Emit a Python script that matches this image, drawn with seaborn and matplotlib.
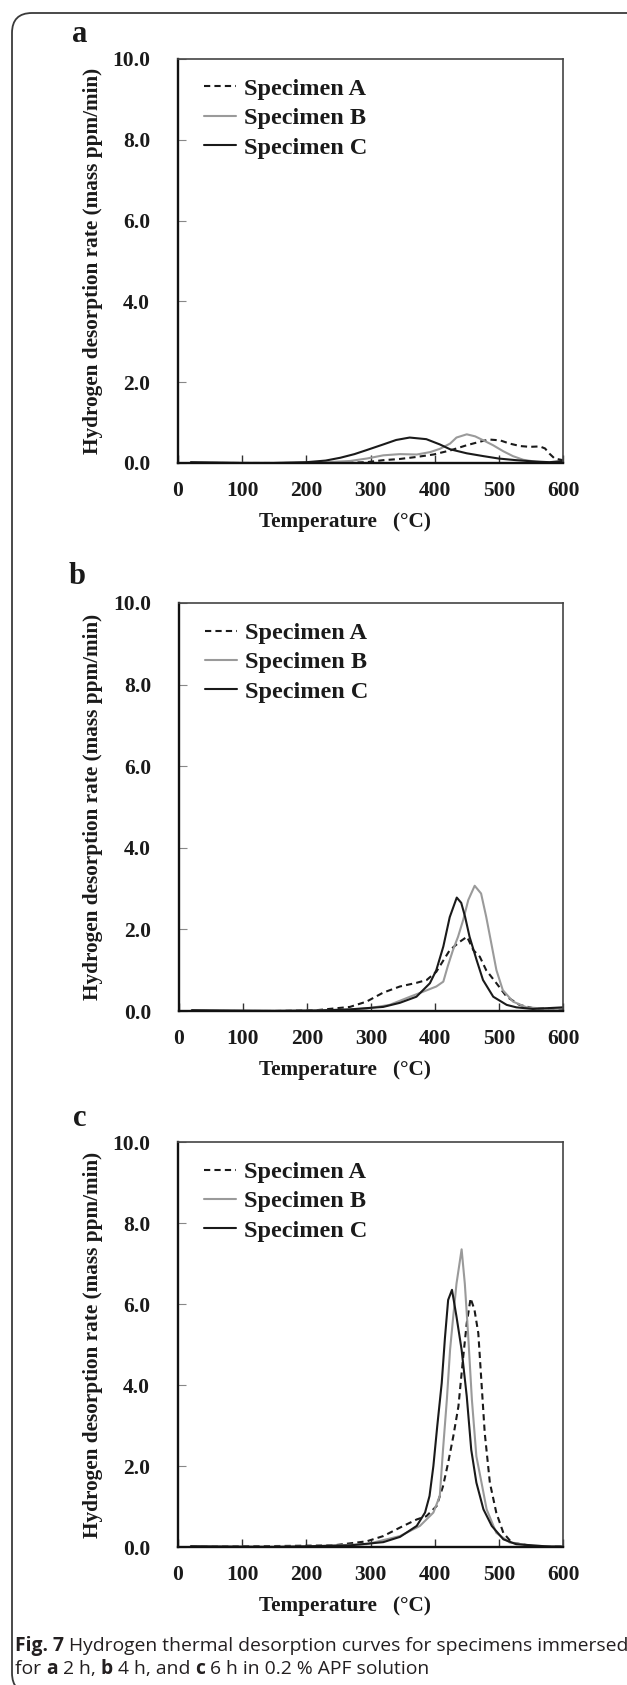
import numpy as np
import pandas as pd
import matplotlib
matplotlib.use("Agg")
import matplotlib.pyplot as plt
import seaborn as sns
from matplotlib.patches import FancyBboxPatch
from matplotlib.transforms import IdentityTransform

# ---------------- data ----------------
x_ticks = [0, 100, 200, 300, 400, 500, 600]
y_ticks = [0.0, 2.0, 4.0, 6.0, 8.0, 10.0]
series_names = ["Specimen A", "Specimen B", "Specimen C"]
panel_letters = ["a", "b", "c"]
x_label = "Temperature   (°C)"
y_label = "Hydrogen desorption rate (mass ppm/min)"

# panel a (2 h)
a_A_T = [20, 150, 250, 294, 320, 346, 372, 398, 424, 450, 476, 486, 502, 517, 533, 548, 564, 572, 579, 587, 600]
a_A_v = [0.0, 0.0, 0.0, 0.02, 0.07, 0.10, 0.15, 0.21, 0.31, 0.44, 0.55, 0.58, 0.56, 0.48, 0.42, 0.40, 0.41, 0.36, 0.23, 0.11, 0.07]
a_B_T = [20, 150, 220, 268, 294, 320, 346, 372, 393, 408, 424, 434, 450, 463, 476, 491, 507, 522, 538, 558, 579, 600]
a_B_v = [0.01, 0.0, 0.01, 0.05, 0.11, 0.19, 0.22, 0.21, 0.27, 0.35, 0.48, 0.63, 0.71, 0.66, 0.56, 0.44, 0.29, 0.17, 0.08, 0.03, 0.01, 0.02]
a_C_T = [20, 100, 150, 200, 230, 253, 275, 294, 320, 340, 361, 387, 408, 424, 450, 476, 500, 527, 553, 579, 600]
a_C_v = [0.02, 0.0, 0.0, 0.02, 0.06, 0.13, 0.22, 0.32, 0.46, 0.57, 0.63, 0.59, 0.46, 0.34, 0.24, 0.17, 0.11, 0.07, 0.04, 0.02, 0.05]

# panel b (4 h)
b_A_T = [20, 150, 215, 267, 293, 319, 345, 371, 387, 402, 423, 439, 450, 460, 470, 480, 496, 512, 532, 553, 600]
b_A_v = [0.0, 0.0, 0.02, 0.10, 0.23, 0.45, 0.60, 0.69, 0.76, 0.96, 1.49, 1.70, 1.82, 1.49, 1.33, 1.00, 0.68, 0.35, 0.15, 0.07, 0.05]
b_B_T = [20, 200, 260, 293, 329, 361, 381, 402, 413, 420, 428, 436, 444, 452, 462, 472, 480, 486, 496, 506, 522, 543, 579, 600]
b_B_v = [0.0, 0.01, 0.03, 0.06, 0.15, 0.35, 0.47, 0.60, 0.72, 1.10, 1.49, 1.82, 2.23, 2.72, 3.07, 2.88, 2.31, 1.82, 1.00, 0.51, 0.23, 0.09, 0.05, 0.06]
b_C_T = [20, 150, 215, 267, 319, 345, 371, 392, 402, 413, 423, 434, 441, 447, 454, 465, 475, 491, 512, 527, 553, 600]
b_C_v = [0.02, 0.0, 0.01, 0.04, 0.10, 0.20, 0.35, 0.68, 1.00, 1.58, 2.30, 2.78, 2.65, 2.31, 1.82, 1.25, 0.76, 0.35, 0.15, 0.09, 0.05, 0.09]

# panel c (6 h)
c_A_T = [20, 242, 294, 320, 346, 372, 387, 403, 413, 421, 429, 437, 444, 450, 456, 462, 468, 473, 478, 486, 496, 507, 520, 553, 600]
c_A_v = [0.0, 0.04, 0.14, 0.27, 0.48, 0.68, 0.76, 1.01, 1.50, 2.08, 2.73, 3.47, 4.62, 5.53, 6.14, 5.86, 5.28, 4.05, 2.82, 1.59, 0.85, 0.35, 0.11, 0.02, 0.01]
c_B_T = [20, 200, 294, 346, 377, 398, 408, 413, 419, 424, 429, 434, 442, 447, 452, 458, 465, 473, 481, 496, 517, 553, 600]
c_B_v = [0.0, 0.01, 0.07, 0.27, 0.52, 0.85, 1.26, 2.40, 3.64, 4.87, 5.70, 6.50, 7.35, 6.50, 5.28, 3.64, 2.24, 1.59, 0.93, 0.35, 0.11, 0.03, 0.01]
c_C_T = [20, 150, 268, 320, 346, 372, 385, 392, 398, 404, 411, 416, 421, 427, 434, 442, 450, 457, 465, 476, 489, 507, 527, 579, 600]
c_C_v = [0.02, 0.0, 0.04, 0.12, 0.25, 0.52, 0.85, 1.26, 2.00, 2.98, 4.05, 5.16, 6.10, 6.35, 5.69, 4.87, 3.72, 2.40, 1.59, 0.93, 0.52, 0.19, 0.07, 0.01, 0.01]

panels = [
    [(a_A_T, a_A_v), (a_B_T, a_B_v), (a_C_T, a_C_v)],
    [(b_A_T, b_A_v), (b_B_T, b_B_v), (b_C_T, b_C_v)],
    [(c_A_T, c_A_v), (c_B_T, c_B_v), (c_C_T, c_C_v)],
]

# ---------------- style ----------------
sns.set_style("white")
plt.rcParams["font.family"] = ["Liberation Serif", "DejaVu Serif"]
plt.rcParams["font.weight"] = "bold"

W, H = 627, 1685
fig = plt.figure(figsize=(W / 100, H / 100), dpi=100)
fig.patch.set_facecolor("white")

# rounded frame of the figure panel
frame = FancyBboxPatch((12, -8), 660, H - 13 + 8, boxstyle="round,pad=0,rounding_size=20",
                       transform=IdentityTransform(), fill=False, edgecolor="#3a3a3a", linewidth=1.3)
fig.add_artist(frame)

colors = ["#1a1a1a", "#9a9a9a", "#1a1a1a"]
styles = [(0, (3, 2)), "-", "-"]

# axes boxes in pixels: left, right, top, bottom
boxes = [(178, 563, 59, 463), (179, 563, 603, 1011), (178, 563, 1142, 1547)]
letter_pos = [(80, 35), (77, 577), (80, 1118)]


def fx(px):
    return px / W


def fy(py):
    return 1 - py / H


for i, (l, r, t, b) in enumerate(boxes):
    ax = fig.add_axes([fx(l), fy(b), (r - l) / W, (b - t) / H])
    for j, (T, v) in enumerate(panels[i]):
        sns.lineplot(x=T, y=v, ax=ax, color=colors[j], linestyle=styles[j], linewidth=1.5,
                     label=series_names[j], sort=False, estimator=None)
    ax.set_xlim(x_ticks[0], x_ticks[-1])
    ax.set_ylim(y_ticks[0], y_ticks[-1])
    ax.set_xticks(x_ticks)
    ax.set_xticklabels([str(x) for x in x_ticks])
    ax.set_yticks(y_ticks)
    ax.set_yticklabels([f"{y:.1f}" for y in y_ticks])
    ax.set_xlabel("")
    ax.set_ylabel("")
    ax.tick_params(axis="x", direction="in", length=6, width=1.0, color="#333333",
                   pad=13, labelsize=15.5, bottom=True)
    ax.tick_params(axis="y", direction="in", length=6, width=0.8, color="#888888",
                   pad=20, labelsize=15.5, left=True)
    for lab in ax.get_xticklabels() + ax.get_yticklabels():
        lab.set_fontweight("bold")
        lab.set_color("#1a1a1a")
    for side in ["left", "bottom"]:
        ax.spines[side].set_color("#111111")
        ax.spines[side].set_linewidth(1.7)
    for side in ["top", "right"]:
        ax.spines[side].set_color("#444444")
        ax.spines[side].set_linewidth(1.2)
    leg = ax.legend(loc="upper left", bbox_to_anchor=(0.0675, 0.953), frameon=False,
                    prop={"family": "Liberation Serif", "weight": "bold", "size": 17.5},
                    handlelength=1.3, handletextpad=0.33, labelspacing=0.3,
                    borderpad=0, borderaxespad=0)
    for txt in leg.get_texts():
        txt.set_color("#1a1a1a")

    fig.text(fx(93), fy((t + b) / 2), y_label, rotation=90, ha="center", va="center",
             fontsize=15.3, fontweight="bold", color="#1a1a1a")
    fig.text(fx(345), fy(b + 59), x_label, ha="center", va="center",
             fontsize=15.3, fontweight="bold", color="#1a1a1a")
    lx, ly = letter_pos[i]
    fig.text(fx(lx), fy(ly), panel_letters[i], ha="center", va="center",
             fontsize=22, fontweight="bold", color="#1a1a1a")

# ---------------- caption ----------------
cap_family = ["Open Sans", "DejaVu Sans"]
line1 = [("Fig. 7", "bold"), (" Hydrogen thermal desorption curves for specimens immersed", "normal")]
line2 = [("for ", "normal"), ("a", "bold"), (" 2 h, ", "normal"), ("b", "bold"),
         (" 4 h, and ", "normal"), ("c", "bold"), (" 6 h in 0.2 % APF solution", "normal")]

renderer = fig.canvas.get_renderer()


def line_width(runs, size):
    total = 0
    for s, w in runs:
        tt = fig.text(0, 0, s, fontsize=size, fontweight=w, family=cap_family)
        total += tt.get_window_extent(renderer=renderer).width
        tt.remove()
    return total


base = 12.0
cap_size = base * 608 / line_width(line1, base)


def draw_runs(runs, x_px, y_px, size):
    x = x_px
    for s, w in runs:
        tt = fig.text(fx(x), fy(y_px), s, fontsize=size, fontweight=w, family=cap_family,
                      ha="left", va="center", color="#231f20")
        x += tt.get_window_extent(renderer=renderer).width


draw_runs(line1, 15, 1646, cap_size)
draw_runs(line2, 15, 1669, cap_size)

fig.savefig("out.png", dpi=100, facecolor="white")
